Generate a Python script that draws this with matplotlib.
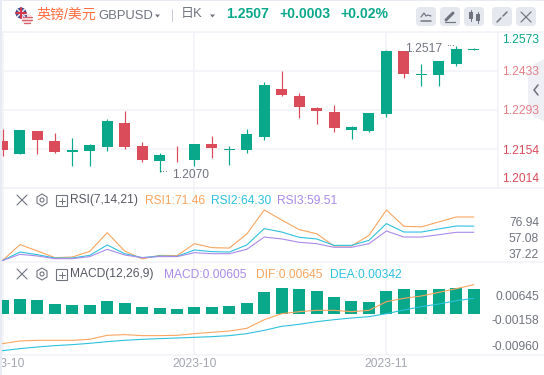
import matplotlib
matplotlib.use("Agg")
import matplotlib.pyplot as plt
from matplotlib.patches import Rectangle, FancyBboxPatch, Circle, Polygon

plt.rcParams["font.family"] = ["Liberation Sans", "Noto Sans CJK SC", "DejaVu Sans"]

# candles
opens = [1.2184, 1.2136, 1.2219, 1.2183, 1.2143, 1.2147, 1.2161, 1.2247, 1.2165, 1.2111, 1.2130, 1.2115, 1.2172, 1.2151,
         1.2151, 1.2197, 1.2369, 1.2344, 1.2301, 1.2287, 1.2222, 1.2219, 1.2279, 1.2505, 1.2419, 1.2419, 1.2458, 1.2510]
closes = [1.2151, 1.2222, 1.2186, 1.2143, 1.2151, 1.2169, 1.2254, 1.2161, 1.2115, 1.2133, 1.2127, 1.2172, 1.2158, 1.2154,
          1.2208, 1.2383, 1.2347, 1.2305, 1.2290, 1.2229, 1.2233, 1.2283, 1.2505, 1.2423, 1.2423, 1.2469, 1.2512, 1.2512]
highs = [1.2226, 1.2222, 1.2219, 1.2211, 1.2194, 1.2172, 1.2262, 1.2290, 1.2179, 1.2140, 1.2165, 1.2172, 1.2201, 1.2165,
         1.2226, 1.2394, 1.2433, 1.2355, 1.2305, 1.2312, 1.2236, 1.2283, 1.2509, 1.2505, 1.2458, 1.2469, 1.2523, 1.2516]
lows = [1.2127, 1.2136, 1.2136, 1.2140, 1.2093, 1.2093, 1.2147, 1.2154, 1.2108, 1.2072, 1.2108, 1.2093, 1.2122, 1.2097,
        1.2140, 1.2186, 1.2344, 1.2265, 1.2244, 1.2215, 1.2190, 1.2215, 1.2269, 1.2408, 1.2380, 1.2380, 1.2451, 1.2509]

rsi1 = [37.4, 49.9, 44.9, 39.7, 40.2, 44.6, 59.2, 44.9, 38.7, 41.5, 41.3, 50.6, 47.5, 47.2,
        58.2, 76.9, 69.1, 61.6, 58.4, 48.8, 48.8, 57.1, 76.9, 64.2, 63.7, 67.6, 71.46, 71.46]
rsi2 = [37.4, 44.1, 42.0, 39.4, 39.4, 41.5, 49.6, 42.8, 39.7, 41.0, 40.7, 45.7, 44.4, 44.1,
        49.6, 62.4, 59.7, 55.6, 54.3, 49.3, 49.3, 53.2, 66.3, 59.7, 59.7, 62.1, 64.4, 64.30]
rsi3 = [37.4, 42.3, 41.0, 38.9, 38.9, 40.5, 46.2, 41.8, 39.7, 40.5, 40.5, 43.6, 42.8, 42.8,
        46.2, 55.8, 54.3, 51.7, 50.6, 47.8, 47.8, 50.6, 60.5, 55.8, 55.8, 57.6, 59.5, 59.51]

macd = [.00308, .00330, .00308, .00220, .00198, .00198, .00286, .00242, .00154, .00132, .00110, .00154, .00154, .00176,
        .00242, .00484, .00572, .00550, .00506, .00374, .00286, .00264, .00506, .00550, .00528, .00550, .00572, .00550]
dif = [-.00652, -.00594, -.00579, -.00579, -.00579, -.00557, -.00469, -.00454, -.00476, -.00476, -.00469, -.00432, -.00403, -.00374,
       -.00315, -.00125, .00007, .00051, .00081, .00081, .00051, .00081, .00271, .00345, .00396, .00476, .00557, .00645]
dea = [-.00806, -.00762, -.00726, -.00696, -.00674, -.00645, -.00608, -.00579, -.00557, -.00542, -.00528, -.00513, -.00498, -.00476,
       -.00432, -.00359, -.00271, -.00227, -.00169, -.00125, -.00088, -.00059, .00007, .00088, .00161, .00220, .00293, .00342]

main_grid = [1.2573, 1.2433, 1.2293, 1.2154, 1.2014]
date_idx = [0, 11, 22]
date_labels = ["2023-10", "2023-10", "2023-11"]

GREEN = "#0aa88a"
RED = "#da4c5a"
ORANGE = "#f9a45f"
CYAN = "#2cc1dc"
PURPLE = "#a98ae8"
GRID = "#f2f3f8"
GREY = "#70747f"
W, H = 544, 375
PX = 0.72  # one pixel in points at dpi 100
STEP = 17.45
X0 = 2.5


def panel(fig, top, bottom, right):
    ax = fig.add_axes([2 / W, 1 - bottom / H, (right - 2) / W, (bottom - top) / H])
    ax.set_xlim((2 - X0) / STEP, (right - X0) / STEP)
    ax.set_xticks(date_idx)
    ax.set_xticklabels([])
    ax.tick_params(length=0, labelleft=False)
    ax.grid(axis="x", color=GRID, lw=1.5 * PX)
    ax.set_axisbelow(True)
    for s in ax.spines.values():
        s.set_visible(False)
    return ax


fig = plt.figure(figsize=(W / 100, H / 100), dpi=100, facecolor="white")

# candles
ax = panel(fig, 32, 188, 497)
ax.set_ylim(1.2014, 1.2573)
ax.set_yticks(main_grid)
ax.grid(axis="y", color=GRID, lw=1.5 * PX)
for i in range(len(opens)):
    c = GREEN if closes[i] >= opens[i] else RED
    ax.vlines(i, lows[i], highs[i], color=c, lw=1.2 * PX)
    lo, hi = min(opens[i], closes[i]), max(opens[i], closes[i])
    ax.bar(i, hi - lo, bottom=lo, width=11 / STEP, color=c, lw=0)

# rsi
ax2 = panel(fig, 188, 262, W)
ax2.set_ylim(36.3, 94.1)
ax2.set_yticks([])
x = list(range(len(rsi1)))
ax2.plot(x, rsi1, color=ORANGE, lw=1.1 * PX)
ax2.plot(x, rsi2, color=CYAN, lw=1.1 * PX)
ax2.plot(x, rsi3, color=PURPLE, lw=1.1 * PX)

# macd
ax3 = panel(fig, 262, 355, W)
ax3.set_ylim(-.00902, .01144)
ax3.set_yticks([])
ax3.bar(x, macd, width=12 / STEP, color=GREEN, lw=0)
ax3.plot(x, dif, color=ORANGE, lw=1.1 * PX)
ax3.plot(x, dea, color=CYAN, lw=1.1 * PX)

# everything around the panels, in pixel coordinates
ov = fig.add_axes([0, 0, 1, 1], zorder=10)
ov.set_xlim(0, W)
ov.set_ylim(H, 0)
ov.axis("off")


def txt(x, y, s, color=GREY, size=12, ha="left", **kw):
    ov.text(x, y, s, color=color, fontsize=size * PX, ha=ha, va="center", **kw)


def seg(xs, ys, color=GREY, lw=1.2):
    ov.plot(xs, ys, color=color, lw=lw * PX, solid_capstyle="round")


# frame and separators
ov.add_patch(Rectangle((0, 0), W, 1, color="#e8ebf4", lw=0))
for yy in [32, 188, 262, 355]:
    seg([2, W], [yy, yy], GRID, 1.5)
seg([497.5, 497.5], [32, 188], GRID, 1.5)

# date labels
for i, lab in zip(date_idx, date_labels):
    txt(X0 + STEP * i, 364, lab, "#a3a6b2", 12, ha="center")
ov.add_patch(Rectangle((0, 0), 2, H, color="#e8ebf4", lw=0, zorder=5))

# collapse tab
ov.add_patch(Polygon([[544, 59], [534, 64], [528, 72], [528, 110], [534, 117], [544, 121]],
                     color="#eef0f5", lw=0))
seg([538, 534, 538], [85, 90, 95], GREY, 1.6)

# header flags
ov.add_patch(Circle((21, 13), 5.5, color="#3b4a8a", lw=0))
seg([17.5, 24.5], [9.5, 16.5], "#f0e8ea", 1.5)
seg([17.5, 24.5], [16.5, 9.5], "#f0e8ea", 1.5)
seg([16, 26], [13, 13], "#d8344a", 2)
seg([21, 21], [8, 18], "#d8344a", 2)
ov.add_patch(Circle((27, 19), 5.5, color="#f6dcdc", lw=0))
seg([23, 31.5], [17, 17], "#d8606c", 1.2)
seg([22, 32], [20, 20], "#d8606c", 1.2)
seg([24, 30], [23, 23], "#d8606c", 1.2)
ov.add_patch(Rectangle((22.5, 14.5), 4.5, 3.5, color="#56609a", lw=0))

txt(36, 14.5, "英镑/美元", "#ff6f42", 14)
txt(98, 16, "GBPUSD", GREY, 13)
ov.add_patch(Polygon([[155, 14.5], [160, 14.5], [157.5, 17.5]], color=GREY, lw=0))
seg([171.5, 171.5], [9, 21], "#c9ccd6", 1)
txt(181, 14.5, "日K", GREY, 13)
ov.add_patch(Polygon([[210, 14.5], [215, 14.5], [212.5, 17.5]], color=GREY, lw=0))
txt(226, 14, "1.2507", GREEN, 14, fontweight="bold")
txt(279, 14, "+0.0003", GREEN, 14, fontweight="bold")
txt(340, 14, "+0.02%", GREEN, 14, fontweight="bold")

# toolbar buttons
for bx in [416, 440, 464, 492, 516]:
    ov.add_patch(FancyBboxPatch((bx + 3, 10), 14, 13, boxstyle="round,pad=3,rounding_size=4",
                                fc="#e6e8f0", ec="none"))
seg([421, 424, 426, 428, 431], [17, 13, 16, 15, 16], GREY, 1.2)
seg([421, 431], [20.5, 20.5], GREY, 1.5)
seg([446, 453], [20, 13], GREY, 3)
seg([445, 455], [21.5, 21.5], GREY, 1.2)
ov.add_patch(Rectangle((469, 12), 4, 7, color=GREY, lw=0))
ov.add_patch(Rectangle((476, 14), 4, 7, color=GREY, lw=0))
seg([471, 471], [10, 21], GREY, 1)
seg([478, 478], [12, 23], GREY, 1)
seg([497, 501], [22, 18], GREY, 1.5)
seg([503, 507], [16, 12], GREY, 1.5)
seg([521, 531], [12, 22], GREY, 1.2)
seg([521, 531], [22, 12], GREY, 1.2)

# right axis labels
txt(539, 40, "1.2573", GREEN, ha="right")
txt(539, 72, "1.2433", "#e77f88", ha="right")
txt(539, 111, "1.2293", "#e77f88", ha="right")
txt(539, 151, "1.2154", RED, ha="right")
txt(539, 179, "1.2014", RED, ha="right")
txt(539, 222.5, "76.94", ha="right")
txt(539, 238.5, "57.08", ha="right")
txt(539, 254.5, "37.22", ha="right")
txt(539, 296.5, "0.00645", ha="right")
txt(539, 321.5, "-0.00158", ha="right")
txt(539, 346.5, "-0.00960", ha="right")

# high / low marks
txt(405, 49, "1.2517", GREY)
txt(447, 45, "···", GREY, 9)
txt(160, 172, "···", GREY, 9)
txt(172, 174.5, "1.2070", GREY)


def indicator_head(y):
    seg([17, 27], [y - 5, y + 5], GREY, 1.1)
    seg([17, 27], [y + 5, y - 5], GREY, 1.1)
    ov.add_patch(Polygon([[42, y - 6], [47, y - 3], [47, y + 3], [42, y + 6], [37, y + 3], [37, y - 3]],
                         fc="none", ec=GREY, lw=1.1 * PX))
    ov.add_patch(Circle((42, y), 2, fc="none", ec=GREY, lw=1.1 * PX))
    ov.add_patch(Rectangle((56, y - 5), 11, 11, fc="none", ec=GREY, lw=1.1 * PX))
    seg([58.5, 64.5], [y + 0.5, y + 0.5], GREY, 1)
    seg([61.5, 61.5], [y - 2.5, y + 3.5], GREY, 1)


indicator_head(200)
txt(70, 200.5, "RSI(7,14,21)", "#555862")
txt(145, 200.5, "RSI1:71.46", ORANGE)
txt(211, 200.5, "RSI2:64.30", CYAN)
txt(277, 200.5, "RSI3:59.51", PURPLE)

indicator_head(274)
txt(70, 274.5, "MACD(12,26,9)", "#555862")
txt(164, 274.5, "MACD:0.00605", PURPLE)
txt(256, 274.5, "DIF:0.00645", ORANGE)
txt(330, 274.5, "DEA:0.00342", CYAN)

fig.savefig("out.png", dpi=100)
